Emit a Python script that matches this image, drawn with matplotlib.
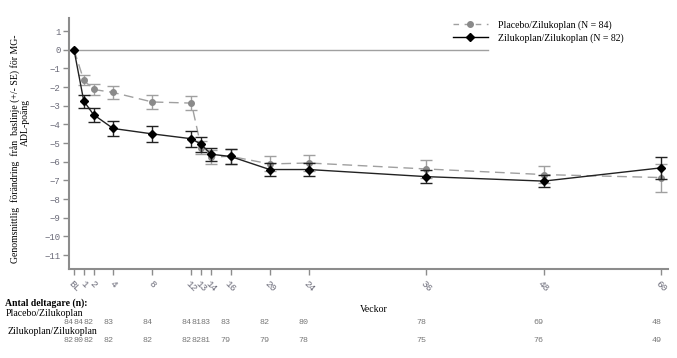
import matplotlib
matplotlib.use('Agg')
import matplotlib.pyplot as plt
from matplotlib.lines import Line2D
from matplotlib.transforms import blended_transform_factory, ScaledTranslation

# veckor och etiketter
weeks = [0, 1, 2, 4, 8, 12, 13, 14, 16, 20, 24, 36, 48, 60]
week_labels = ['BL', '1', '2', '4', '8', '12', '13', '14', '16', '20', '24', '36', '48', '60']

placebo_mean = [0, -1.63, -2.13, -2.29, -2.80, -2.86, -5.25, -5.75, -5.71, -6.12, -6.07, -6.39, -6.69, -6.85]
placebo_se = [0, 0.27, 0.30, 0.34, 0.38, 0.38, 0.35, 0.35, 0.40, 0.40, 0.45, 0.48, 0.47, 0.75]
zilu_mean = [0, -2.75, -3.48, -4.22, -4.51, -4.77, -5.07, -5.60, -5.72, -6.42, -6.42, -6.80, -7.04, -6.33]
zilu_se = [0, 0.35, 0.38, 0.38, 0.42, 0.42, 0.42, 0.35, 0.39, 0.37, 0.37, 0.34, 0.34, 0.59]

placebo_n = [84, 84, 82, 83, 84, 84, 81, 83, 83, 82, 80, 78, 69, 48]
zilu_n = [82, 80, 82, 82, 82, 82, 82, 81, 79, 79, 78, 75, 76, 49]

SERIF = 'Liberation Serif'
MONO = 'Liberation Mono'
TICK_COLOR = '#6a6a78'
AX_COLOR = '#8c8c8c'


def draw():
    fig = plt.figure(figsize=(6.77, 3.58), dpi=100)
    W, H = 677, 358
    ax = fig.add_axes([69 / W, 1 - 269 / H, 599 / W, 251 / H])

    # placebo (grå, streckad)
    ax.plot(weeks, placebo_mean, color='#a0a0a0', lw=1.0, dashes=(7, 4), zorder=2)
    ax.errorbar(weeks[1:], placebo_mean[1:], yerr=placebo_se[1:], fmt='none',
                ecolor='#a0a0a0', elinewidth=1.0, capsize=4, capthick=1.0, zorder=2)
    ax.plot(weeks, placebo_mean, 'o', color='#8a8a8a', ms=4, zorder=3)

    # zilukoplan (svart)
    ax.plot(weeks, zilu_mean, color='#222222', lw=1.0, zorder=4)
    ax.errorbar(weeks[1:], zilu_mean[1:], yerr=zilu_se[1:], fmt='none',
                ecolor='#222222', elinewidth=1.0, capsize=4, capthick=1.0, zorder=4)
    ax.plot(weeks, zilu_mean, 'D', color='black', ms=3.8, zorder=5)

    ax.axhline(0, xmin=0, xmax=(488 - 69) / 599, color='#a0a0a0', lw=1.0, zorder=1)

    ax.set_xlim(-0.51, 60.7)
    ax.set_ylim(-11.75, 1.70)
    ax.set_yticks(range(-11, 2))
    ax.set_yticklabels([str(v).replace('-', '\u2212') for v in range(-11, 2)],
                       fontfamily=MONO, fontsize=6.5, color=TICK_COLOR)
    ax.set_xticks(weeks)
    ax.set_xticklabels(week_labels, rotation=-45, ha='center', va='top',
                       fontfamily=MONO, fontsize=6.8, color=TICK_COLOR)
    ax.tick_params(axis='both', length=4, width=1, color=AX_COLOR)
    ax.tick_params(axis='y', pad=2)
    ax.tick_params(axis='x', pad=3)

    for s in ['top', 'right']:
        ax.spines[s].set_visible(False)
    for s in ['left', 'bottom']:
        ax.spines[s].set_color(AX_COLOR)
        ax.spines[s].set_linewidth(1.5)

    # y-axelns rubrik
    fig.text(15 / W, 1 - 149 / H,
             'Genomsnittlig  förändring  från  baslinje (+/- SE) för MG-',
             rotation=90, ha='center', va='center', fontfamily=SERIF, fontsize=7)
    fig.text(25 / W, 1 - 123 / H, 'ADL-poäng',
             rotation=90, ha='center', va='center', fontfamily=SERIF, fontsize=7)

    # legend
    handles = [
        Line2D([], [], color='#a0a0a0', lw=1.0, dashes=(4, 4), marker='o',
               markersize=4, markerfacecolor='#8a8a8a', markeredgecolor='#8a8a8a'),
        Line2D([], [], color='black', lw=1.0, marker='D', markersize=3.8),
    ]
    fig.legend(handles, ['Placebo/Zilukoplan (N = 84)', 'Zilukoplan/Zilukoplan (N = 82)'],
               loc='upper left', bbox_to_anchor=(453 / W, 1 - 20 / H),
               frameon=False, prop={'family': SERIF, 'size': 7},
               handlelength=3.6, handletextpad=1.0, labelspacing=0.35,
               borderpad=0, borderaxespad=0)

    # antal deltagare
    fig.text(5 / W, 1 - 303 / H, 'Antal deltagare (n):', ha='left', va='center',
             fontfamily=SERIF, fontsize=7, fontweight='bold')
    fig.text(6 / W, 1 - 314 / H, 'Placebo/Zilukoplan', ha='left', va='center',
             fontfamily=SERIF, fontsize=7)
    fig.text(8 / W, 1 - 332 / H, 'Zilukoplan/Zilukoplan', ha='left', va='center',
             fontfamily=SERIF, fontsize=7)
    fig.text(360 / W, 1 - 310 / H, 'Veckor', ha='left', va='center',
             fontfamily=SERIF, fontsize=7)

    tr = blended_transform_factory(ax.transData, fig.transFigure) + \
        ScaledTranslation(-5 / 100, 0, fig.dpi_scale_trans)
    for w, n1, n2 in zip(weeks, placebo_n, zilu_n):
        fig.text(w, 1 - 322 / H, str(n1), transform=tr, ha='center', va='center',
                 fontfamily=MONO, fontsize=6, color='#777777')
        fig.text(w, 1 - 341 / H, str(n2), transform=tr, ha='center', va='center',
                 fontfamily=MONO, fontsize=6, color='#777777')

    fig.savefig('out.png', dpi=100)


def main():
    draw()


if __name__ == '__main__':
    main()
